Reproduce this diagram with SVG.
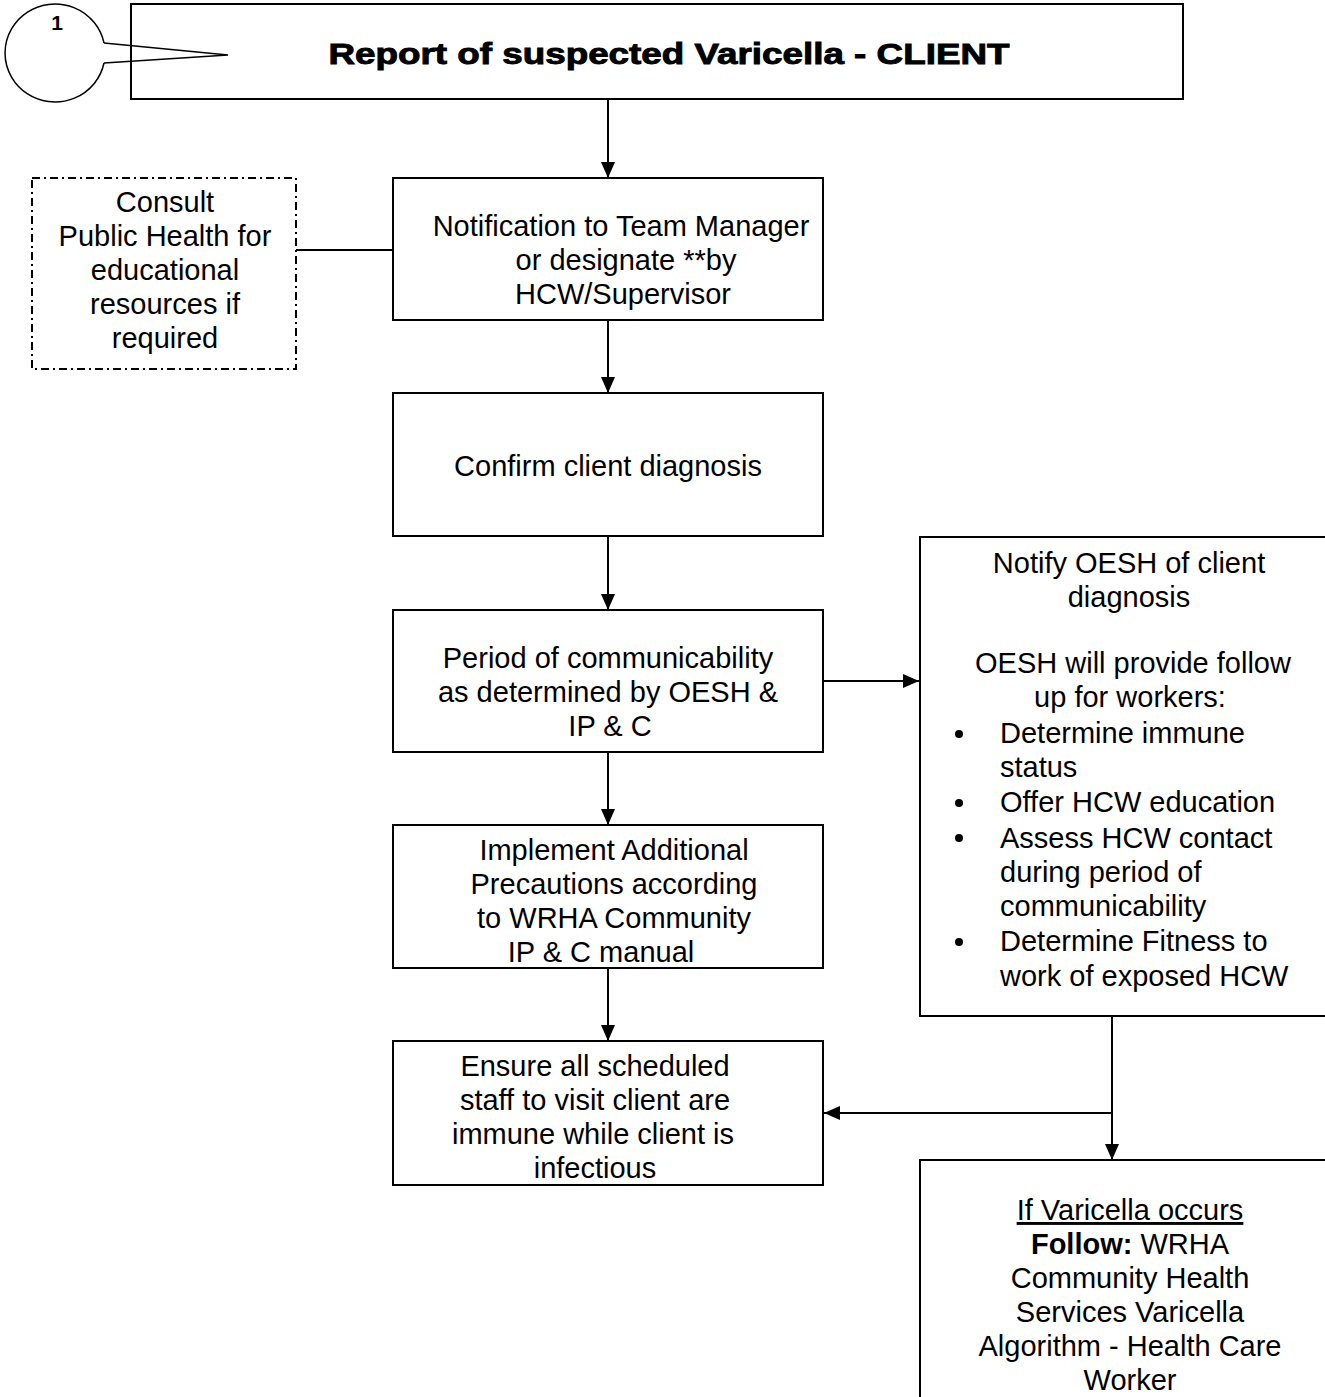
<svg xmlns="http://www.w3.org/2000/svg" width="1325" height="1397" viewBox="0 0 1325 1397">
<style>
.box{fill:#fff;stroke:#000;stroke-width:2}
.dash{fill:#fff;stroke:#000;stroke-width:2;stroke-dasharray:8,4,2,4}
.t{font-family:"Liberation Sans",Arial,sans-serif;font-size:29px;fill:#000;text-anchor:middle}
.l{font-family:"Liberation Sans",Arial,sans-serif;font-size:29px;fill:#000}
.c{fill:none;stroke:#000;stroke-width:2}
</style>
<defs>
<marker id="ah" markerUnits="userSpaceOnUse" markerWidth="18" markerHeight="14" refX="16" refY="7" orient="auto">
<path d="M0,0 L16,7 L0,14 Z" fill="#000"/>
</marker>
</defs>
<g id="connectors">
<line class="c" x1="608" y1="99" x2="608" y2="178" marker-end="url(#ah)"/>
<line class="c" x1="296" y1="250" x2="393" y2="250"/>
<line class="c" x1="608" y1="320" x2="608" y2="393" marker-end="url(#ah)"/>
<line class="c" x1="608" y1="536" x2="608" y2="610" marker-end="url(#ah)"/>
<line class="c" x1="823" y1="681" x2="919" y2="681" marker-end="url(#ah)"/>
<line class="c" x1="608" y1="752" x2="608" y2="825" marker-end="url(#ah)"/>
<line class="c" x1="608" y1="968" x2="608" y2="1041" marker-end="url(#ah)"/>
<line class="c" x1="1112" y1="1016" x2="1112" y2="1160" marker-end="url(#ah)"/>
<line class="c" x1="1112" y1="1113" x2="824" y2="1113" marker-end="url(#ah)"/>
</g>
<g id="title">
<rect class="box" x="131" y="4" width="1052" height="95"/>
<text x="669" y="64" font-family="'Liberation Sans',Arial,sans-serif" font-size="29" font-weight="bold" stroke="#000" stroke-width="0.9" text-anchor="middle" textLength="681" lengthAdjust="spacingAndGlyphs">Report of suspected Varicella - CLIENT</text>
</g>
<g id="callout">
<path d="M104,43 A50,49 0 1 0 104,63" fill="#fff" stroke="#000" stroke-width="1.5"/>
<path d="M104,43 L228,55 L104,63" fill="none" stroke="#000" stroke-width="1.5"/>
<text x="57" y="30" font-family="'Liberation Sans',Arial,sans-serif" font-size="21" font-weight="bold" text-anchor="middle">1</text>
</g>
<g id="consult">
<rect class="dash" x="32" y="178" width="264" height="191"/>
<text class="t" x="165" y="212">Consult</text>
<text class="t" x="165" y="246">Public Health for</text>
<text class="t" x="165" y="280">educational</text>
<text class="t" x="165" y="314">resources if</text>
<text class="t" x="165" y="348">required</text>
</g>
<g id="notification">
<rect class="box" x="393" y="178" width="430" height="142"/>
<text class="t" x="621" y="236">Notification to Team Manager</text>
<text class="t" x="626" y="270">or designate **by</text>
<text class="t" x="623" y="304">HCW/Supervisor</text>
</g>
<g id="confirm">
<rect class="box" x="393" y="393" width="430" height="143"/>
<text class="t" x="608" y="476">Confirm client diagnosis</text>
</g>
<g id="period">
<rect class="box" x="393" y="610" width="430" height="142"/>
<text class="t" x="608" y="668">Period of communicability</text>
<text class="t" x="608" y="702">as determined by OESH &amp;</text>
<text class="t" x="610" y="736">IP &amp; C</text>
</g>
<g id="implement">
<rect class="box" x="393" y="825" width="430" height="143"/>
<text class="t" x="614" y="860">Implement Additional</text>
<text class="t" x="614" y="894">Precautions according</text>
<text class="t" x="614" y="928">to WRHA Community</text>
<text class="t" x="601" y="962">IP &amp; C manual</text>
</g>
<g id="ensure">
<rect class="box" x="393" y="1041" width="430" height="144"/>
<text class="t" x="595" y="1076">Ensure all scheduled</text>
<text class="t" x="595" y="1110">staff to visit client are</text>
<text class="t" x="593" y="1144">immune while client is</text>
<text class="t" x="595" y="1178">infectious</text>
</g>
<g id="oesh">
<rect class="box" x="920" y="537" width="420" height="479"/>
<text class="t" x="1129" y="573">Notify OESH of client</text>
<text class="t" x="1129" y="607">diagnosis</text>
<text class="t" x="1133" y="673">OESH will provide follow</text>
<text class="t" x="1130" y="707">up for workers:</text>
<circle cx="959" cy="734" r="4"/>
<circle cx="959" cy="803" r="4"/>
<circle cx="959" cy="838" r="4"/>
<circle cx="959" cy="942" r="4"/>
<text class="l" x="1000" y="743">Determine immune</text>
<text class="l" x="1000" y="777">status</text>
<text class="l" x="1000" y="812">Offer HCW education</text>
<text class="l" x="1000" y="848">Assess HCW contact</text>
<text class="l" x="1000" y="882">during period of</text>
<text class="l" x="1000" y="916">communicability</text>
<text class="l" x="1000" y="951">Determine Fitness to</text>
<text class="l" x="1000" y="986">work of exposed HCW</text>
</g>
<g id="varicella">
<rect class="box" x="920" y="1160" width="420" height="260"/>
<text class="t" x="1130" y="1220" text-decoration="underline">If Varicella occurs</text>
<text class="t" x="1130" y="1254"><tspan font-weight="bold">Follow:</tspan> WRHA</text>
<text class="t" x="1130" y="1288">Community Health</text>
<text class="t" x="1130" y="1322">Services Varicella</text>
<text class="t" x="1130" y="1356">Algorithm - Health Care</text>
<text class="t" x="1130" y="1390">Worker</text>
</g>
</svg>
